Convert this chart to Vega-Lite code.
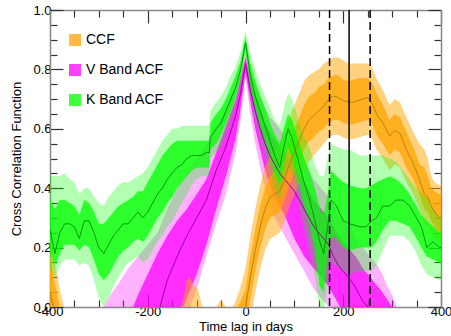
{
"$schema":"https://vega.github.io/schema/vega-lite/v6.json",
"width":391,"height":297,
"autosize":{"type":"none"},
"padding":{"left":50,"top":10,"right":10,"bottom":29},
"background":"white",
"config":{"view":{"stroke":null},"font":"Liberation Sans","axis":{"labelFont":"Liberation Sans","titleFont":"Liberation Sans","labelFontSize":13,"titleFontSize":13,"titleFontWeight":"normal","labelColor":"#000","titleColor":"#000","domainColor":"#888","domainWidth":1.5,"tickColor":"#333","tickWidth":1.2,"grid":false}},
"data":{"values":[
{"s":"K Band ACF","lag":-400,"c":0.26,"l2":0.13,"l1":0.19,"h1":0.36,"h2":0.44},
{"s":"K Band ACF","lag":-390,"c":0.18,"l2":0.10,"l1":0.14,"h1":0.33,"h2":0.44},
{"s":"K Band ACF","lag":-380,"c":0.25,"l2":0.14,"l1":0.18,"h1":0.36,"h2":0.44},
{"s":"K Band ACF","lag":-370,"c":0.28,"l2":0.16,"l1":0.21,"h1":0.36,"h2":0.45},
{"s":"K Band ACF","lag":-360,"c":0.28,"l2":0.16,"l1":0.21,"h1":0.35,"h2":0.43},
{"s":"K Band ACF","lag":-350,"c":0.27,"l2":0.16,"l1":0.21,"h1":0.34,"h2":0.42},
{"s":"K Band ACF","lag":-340,"c":0.23,"l2":0.14,"l1":0.19,"h1":0.31,"h2":0.38},
{"s":"K Band ACF","lag":-330,"c":0.29,"l2":0.15,"l1":0.21,"h1":0.36,"h2":0.40},
{"s":"K Band ACF","lag":-320,"c":0.29,"l2":0.14,"l1":0.20,"h1":0.35,"h2":0.40},
{"s":"K Band ACF","lag":-310,"c":0.25,"l2":0.09,"l1":0.16,"h1":0.32,"h2":0.37},
{"s":"K Band ACF","lag":-300,"c":0.20,"l2":0.03,"l1":0.11,"h1":0.28,"h2":0.35},
{"s":"K Band ACF","lag":-290,"c":0.18,"l2":0.00,"l1":0.09,"h1":0.28,"h2":0.34},
{"s":"K Band ACF","lag":-280,"c":0.21,"l2":0.03,"l1":0.11,"h1":0.30,"h2":0.37},
{"s":"K Band ACF","lag":-270,"c":0.24,"l2":0.07,"l1":0.14,"h1":0.32,"h2":0.39},
{"s":"K Band ACF","lag":-260,"c":0.26,"l2":0.10,"l1":0.17,"h1":0.34,"h2":0.41},
{"s":"K Band ACF","lag":-250,"c":0.28,"l2":0.13,"l1":0.19,"h1":0.35,"h2":0.42},
{"s":"K Band ACF","lag":-240,"c":0.28,"l2":0.15,"l1":0.20,"h1":0.36,"h2":0.42},
{"s":"K Band ACF","lag":-230,"c":0.30,"l2":0.16,"l1":0.22,"h1":0.37,"h2":0.43},
{"s":"K Band ACF","lag":-220,"c":0.32,"l2":0.17,"l1":0.23,"h1":0.39,"h2":0.44},
{"s":"K Band ACF","lag":-210,"c":0.30,"l2":0.15,"l1":0.22,"h1":0.39,"h2":0.45},
{"s":"K Band ACF","lag":-200,"c":0.32,"l2":0.16,"l1":0.24,"h1":0.42,"h2":0.47},
{"s":"K Band ACF","lag":-190,"c":0.35,"l2":0.19,"l1":0.27,"h1":0.45,"h2":0.50},
{"s":"K Band ACF","lag":-180,"c":0.38,"l2":0.22,"l1":0.30,"h1":0.48,"h2":0.53},
{"s":"K Band ACF","lag":-170,"c":0.40,"l2":0.24,"l1":0.32,"h1":0.51,"h2":0.56},
{"s":"K Band ACF","lag":-160,"c":0.43,"l2":0.27,"l1":0.35,"h1":0.53,"h2":0.58},
{"s":"K Band ACF","lag":-150,"c":0.45,"l2":0.29,"l1":0.37,"h1":0.55,"h2":0.60},
{"s":"K Band ACF","lag":-140,"c":0.47,"l2":0.32,"l1":0.40,"h1":0.56,"h2":0.60},
{"s":"K Band ACF","lag":-130,"c":0.48,"l2":0.35,"l1":0.42,"h1":0.56,"h2":0.61},
{"s":"K Band ACF","lag":-120,"c":0.50,"l2":0.38,"l1":0.44,"h1":0.56,"h2":0.61},
{"s":"K Band ACF","lag":-110,"c":0.51,"l2":0.41,"l1":0.46,"h1":0.56,"h2":0.61},
{"s":"K Band ACF","lag":-100,"c":0.51,"l2":0.43,"l1":0.47,"h1":0.56,"h2":0.61},
{"s":"K Band ACF","lag":-90,"c":0.51,"l2":0.44,"l1":0.47,"h1":0.56,"h2":0.61},
{"s":"K Band ACF","lag":-80,"c":0.52,"l2":0.44,"l1":0.47,"h1":0.56,"h2":0.61},
{"s":"K Band ACF","lag":-74,"c":0.52,"l2":0.44,"l1":0.47,"h1":0.56,"h2":0.61},
{"s":"K Band ACF","lag":-72,"c":0.57,"l2":0.50,"l1":0.53,"h1":0.62,"h2":0.66},
{"s":"K Band ACF","lag":-60,"c":0.60,"l2":0.52,"l1":0.55,"h1":0.65,"h2":0.69},
{"s":"K Band ACF","lag":-50,"c":0.62,"l2":0.54,"l1":0.58,"h1":0.67,"h2":0.71},
{"s":"K Band ACF","lag":-40,"c":0.66,"l2":0.58,"l1":0.62,"h1":0.70,"h2":0.74},
{"s":"K Band ACF","lag":-30,"c":0.70,"l2":0.63,"l1":0.66,"h1":0.74,"h2":0.78},
{"s":"K Band ACF","lag":-20,"c":0.74,"l2":0.68,"l1":0.71,"h1":0.78,"h2":0.81},
{"s":"K Band ACF","lag":-10,"c":0.80,"l2":0.75,"l1":0.77,"h1":0.83,"h2":0.86},
{"s":"K Band ACF","lag":0,"c":0.89,"l2":0.85,"l1":0.87,"h1":0.91,"h2":0.93},
{"s":"K Band ACF","lag":10,"c":0.78,"l2":0.71,"l1":0.74,"h1":0.82,"h2":0.85},
{"s":"K Band ACF","lag":20,"c":0.71,"l2":0.63,"l1":0.67,"h1":0.76,"h2":0.80},
{"s":"K Band ACF","lag":30,"c":0.66,"l2":0.57,"l1":0.61,"h1":0.71,"h2":0.75},
{"s":"K Band ACF","lag":40,"c":0.61,"l2":0.51,"l1":0.56,"h1":0.67,"h2":0.71},
{"s":"K Band ACF","lag":50,"c":0.56,"l2":0.46,"l1":0.51,"h1":0.62,"h2":0.67},
{"s":"K Band ACF","lag":60,"c":0.51,"l2":0.40,"l1":0.45,"h1":0.58,"h2":0.63},
{"s":"K Band ACF","lag":70,"c":0.47,"l2":0.36,"l1":0.41,"h1":0.55,"h2":0.61},
{"s":"K Band ACF","lag":80,"c":0.55,"l2":0.43,"l1":0.49,"h1":0.61,"h2":0.68},
{"s":"K Band ACF","lag":87,"c":0.60,"l2":0.48,"l1":0.54,"h1":0.65,"h2":0.72},
{"s":"K Band ACF","lag":95,"c":0.57,"l2":0.45,"l1":0.50,"h1":0.63,"h2":0.70},
{"s":"K Band ACF","lag":105,"c":0.51,"l2":0.38,"l1":0.44,"h1":0.58,"h2":0.65},
{"s":"K Band ACF","lag":118,"c":0.43,"l2":0.28,"l1":0.35,"h1":0.51,"h2":0.58},
{"s":"K Band ACF","lag":130,"c":0.37,"l2":0.20,"l1":0.28,"h1":0.46,"h2":0.54},
{"s":"K Band ACF","lag":142,"c":0.29,"l2":0.10,"l1":0.19,"h1":0.40,"h2":0.48},
{"s":"K Band ACF","lag":152,"c":0.22,"l2":0.00,"l1":0.07,"h1":0.33,"h2":0.44},
{"s":"K Band ACF","lag":160,"c":0.18,"l2":-0.02,"l1":0.05,"h1":0.31,"h2":0.44},
{"s":"K Band ACF","lag":168,"c":0.27,"l2":0.08,"l1":0.17,"h1":0.38,"h2":0.50},
{"s":"K Band ACF","lag":175,"c":0.36,"l2":0.15,"l1":0.24,"h1":0.46,"h2":0.55},
{"s":"K Band ACF","lag":186,"c":0.34,"l2":0.14,"l1":0.23,"h1":0.44,"h2":0.54},
{"s":"K Band ACF","lag":200,"c":0.29,"l2":0.12,"l1":0.20,"h1":0.42,"h2":0.53},
{"s":"K Band ACF","lag":213,"c":0.28,"l2":0.11,"l1":0.19,"h1":0.41,"h2":0.53},
{"s":"K Band ACF","lag":234,"c":0.27,"l2":0.12,"l1":0.20,"h1":0.40,"h2":0.51},
{"s":"K Band ACF","lag":247,"c":0.27,"l2":0.12,"l1":0.20,"h1":0.40,"h2":0.51},
{"s":"K Band ACF","lag":258,"c":0.29,"l2":0.12,"l1":0.20,"h1":0.41,"h2":0.51},
{"s":"K Band ACF","lag":268,"c":0.30,"l2":0.14,"l1":0.22,"h1":0.42,"h2":0.51},
{"s":"K Band ACF","lag":281,"c":0.34,"l2":0.19,"l1":0.26,"h1":0.43,"h2":0.51},
{"s":"K Band ACF","lag":295,"c":0.34,"l2":0.24,"l1":0.29,"h1":0.44,"h2":0.50},
{"s":"K Band ACF","lag":308,"c":0.36,"l2":0.24,"l1":0.29,"h1":0.43,"h2":0.49},
{"s":"K Band ACF","lag":322,"c":0.36,"l2":0.24,"l1":0.28,"h1":0.41,"h2":0.46},
{"s":"K Band ACF","lag":336,"c":0.34,"l2":0.22,"l1":0.27,"h1":0.38,"h2":0.43},
{"s":"K Band ACF","lag":350,"c":0.30,"l2":0.18,"l1":0.23,"h1":0.34,"h2":0.40},
{"s":"K Band ACF","lag":360,"c":0.27,"l2":0.14,"l1":0.20,"h1":0.31,"h2":0.38},
{"s":"K Band ACF","lag":371,"c":0.20,"l2":0.11,"l1":0.17,"h1":0.29,"h2":0.37},
{"s":"K Band ACF","lag":384,"c":0.22,"l2":0.10,"l1":0.16,"h1":0.27,"h2":0.33},
{"s":"K Band ACF","lag":397,"c":0.20,"l2":0.09,"l1":0.15,"h1":0.25,"h2":0.30},
{"s":"K Band ACF","lag":400,"c":0.20,"l2":0.09,"l1":0.15,"h1":0.25,"h2":0.30},
{"s":"V Band ACF","lag":-320,"c":-0.80,"l2":-1.0,"l1":-1.0,"h1":-0.32,"h2":-0.09},
{"s":"V Band ACF","lag":-300,"c":-0.70,"l2":-1.0,"l1":-0.9,"h1":-0.25,"h2":-0.03},
{"s":"V Band ACF","lag":-280,"c":-0.60,"l2":-0.9,"l1":-0.8,"h1":-0.18,"h2":0.03},
{"s":"V Band ACF","lag":-260,"c":-0.50,"l2":-0.8,"l1":-0.7,"h1":-0.11,"h2":0.08},
{"s":"V Band ACF","lag":-240,"c":-0.40,"l2":-0.7,"l1":-0.6,"h1":-0.04,"h2":0.13},
{"s":"V Band ACF","lag":-220,"c":-0.30,"l2":-0.6,"l1":-0.5,"h1":0.04,"h2":0.17},
{"s":"V Band ACF","lag":-200,"c":-0.15,"l2":-0.45,"l1":-0.35,"h1":0.11,"h2":0.21},
{"s":"V Band ACF","lag":-180,"c":-0.03,"l2":-0.30,"l1":-0.22,"h1":0.18,"h2":0.25},
{"s":"V Band ACF","lag":-160,"c":0.09,"l2":-0.18,"l1":-0.12,"h1":0.24,"h2":0.33},
{"s":"V Band ACF","lag":-140,"c":0.17,"l2":-0.10,"l1":-0.05,"h1":0.29,"h2":0.40},
{"s":"V Band ACF","lag":-120,"c":0.24,"l2":-0.03,"l1":0.03,"h1":0.33,"h2":0.45},
{"s":"V Band ACF","lag":-100,"c":0.30,"l2":0.06,"l1":0.11,"h1":0.38,"h2":0.50},
{"s":"V Band ACF","lag":-80,"c":0.36,"l2":0.17,"l1":0.21,"h1":0.43,"h2":0.55},
{"s":"V Band ACF","lag":-60,"c":0.46,"l2":0.28,"l1":0.33,"h1":0.52,"h2":0.61},
{"s":"V Band ACF","lag":-40,"c":0.54,"l2":0.38,"l1":0.44,"h1":0.61,"h2":0.67},
{"s":"V Band ACF","lag":-20,"c":0.645,"l2":0.52,"l1":0.57,"h1":0.70,"h2":0.74},
{"s":"V Band ACF","lag":-10,"c":0.72,"l2":0.63,"l1":0.67,"h1":0.77,"h2":0.79},
{"s":"V Band ACF","lag":0,"c":0.82,"l2":0.77,"l1":0.79,"h1":0.84,"h2":0.86},
{"s":"V Band ACF","lag":10,"c":0.73,"l2":0.65,"l1":0.69,"h1":0.77,"h2":0.80},
{"s":"V Band ACF","lag":20,"c":0.66,"l2":0.55,"l1":0.60,"h1":0.71,"h2":0.75},
{"s":"V Band ACF","lag":30,"c":0.60,"l2":0.47,"l1":0.53,"h1":0.66,"h2":0.71},
{"s":"V Band ACF","lag":40,"c":0.55,"l2":0.40,"l1":0.46,"h1":0.62,"h2":0.67},
{"s":"V Band ACF","lag":50,"c":0.51,"l2":0.34,"l1":0.41,"h1":0.59,"h2":0.64},
{"s":"V Band ACF","lag":60,"c":0.48,"l2":0.30,"l1":0.37,"h1":0.56,"h2":0.62},
{"s":"V Band ACF","lag":70,"c":0.45,"l2":0.27,"l1":0.34,"h1":0.54,"h2":0.60},
{"s":"V Band ACF","lag":80,"c":0.43,"l2":0.24,"l1":0.31,"h1":0.52,"h2":0.58},
{"s":"V Band ACF","lag":90,"c":0.41,"l2":0.21,"l1":0.27,"h1":0.50,"h2":0.56},
{"s":"V Band ACF","lag":100,"c":0.39,"l2":0.18,"l1":0.23,"h1":0.48,"h2":0.54},
{"s":"V Band ACF","lag":110,"c":0.36,"l2":0.15,"l1":0.20,"h1":0.45,"h2":0.52},
{"s":"V Band ACF","lag":120,"c":0.33,"l2":0.12,"l1":0.17,"h1":0.42,"h2":0.49},
{"s":"V Band ACF","lag":130,"c":0.30,"l2":0.09,"l1":0.15,"h1":0.39,"h2":0.46},
{"s":"V Band ACF","lag":140,"c":0.27,"l2":0.06,"l1":0.13,"h1":0.36,"h2":0.43},
{"s":"V Band ACF","lag":150,"c":0.25,"l2":0.04,"l1":0.11,"h1":0.34,"h2":0.41},
{"s":"V Band ACF","lag":160,"c":0.23,"l2":0.02,"l1":0.09,"h1":0.32,"h2":0.39},
{"s":"V Band ACF","lag":170,"c":0.21,"l2":0.00,"l1":0.07,"h1":0.30,"h2":0.37},
{"s":"V Band ACF","lag":180,"c":0.17,"l2":-0.03,"l1":0.04,"h1":0.27,"h2":0.34},
{"s":"V Band ACF","lag":190,"c":0.14,"l2":-0.06,"l1":0.01,"h1":0.24,"h2":0.31},
{"s":"V Band ACF","lag":200,"c":0.12,"l2":-0.08,"l1":-0.02,"h1":0.22,"h2":0.29},
{"s":"V Band ACF","lag":210,"c":0.10,"l2":-0.10,"l1":-0.04,"h1":0.20,"h2":0.27},
{"s":"V Band ACF","lag":220,"c":0.08,"l2":-0.12,"l1":-0.06,"h1":0.18,"h2":0.25},
{"s":"V Band ACF","lag":230,"c":0.05,"l2":-0.15,"l1":-0.09,"h1":0.16,"h2":0.22},
{"s":"V Band ACF","lag":240,"c":0.02,"l2":-0.18,"l1":-0.12,"h1":0.13,"h2":0.20},
{"s":"V Band ACF","lag":250,"c":0.00,"l2":-0.20,"l1":-0.14,"h1":0.11,"h2":0.18},
{"s":"V Band ACF","lag":260,"c":-0.03,"l2":-0.23,"l1":-0.17,"h1":0.09,"h2":0.16},
{"s":"V Band ACF","lag":270,"c":-0.05,"l2":-0.25,"l1":-0.19,"h1":0.07,"h2":0.14},
{"s":"V Band ACF","lag":280,"c":-0.08,"l2":-0.28,"l1":-0.22,"h1":0.05,"h2":0.11},
{"s":"V Band ACF","lag":290,"c":-0.10,"l2":-0.30,"l1":-0.24,"h1":0.025,"h2":0.07},
{"s":"V Band ACF","lag":300,"c":-0.12,"l2":-0.32,"l1":-0.26,"h1":0.00,"h2":0.04},
{"s":"V Band ACF","lag":310,"c":-0.15,"l2":-0.35,"l1":-0.30,"h1":-0.03,"h2":0.00},
{"s":"V Band ACF","lag":320,"c":-0.20,"l2":-0.40,"l1":-0.35,"h1":-0.06,"h2":-0.03},
{"s":"CCF","lag":-400,"c":0.05,"l2":-0.25,"l1":-0.10,"h1":0.17,"h2":0.24},
{"s":"CCF","lag":-390,"c":-0.02,"l2":-0.30,"l1":-0.18,"h1":0.08,"h2":0.15},
{"s":"CCF","lag":-380,"c":-0.10,"l2":-0.40,"l1":-0.25,"h1":0.00,"h2":0.06},
{"s":"CCF","lag":-370,"c":-0.15,"l2":-0.45,"l1":-0.30,"h1":-0.06,"h2":-0.01},
{"s":"CCF","lag":-350,"c":-0.20,"l2":-0.50,"l1":-0.35,"h1":-0.10,"h2":-0.05},
{"s":"CCF","lag":-300,"c":-0.25,"l2":-0.50,"l1":-0.40,"h1":-0.15,"h2":-0.08},
{"s":"CCF","lag":-200,"c":-0.25,"l2":-0.50,"l1":-0.40,"h1":-0.15,"h2":-0.08},
{"s":"CCF","lag":-140,"c":-0.20,"l2":-0.50,"l1":-0.35,"h1":-0.10,"h2":-0.03},
{"s":"CCF","lag":-128,"c":-0.15,"l2":-0.45,"l1":-0.30,"h1":-0.05,"h2":0.02},
{"s":"CCF","lag":-120,"c":-0.12,"l2":-0.42,"l1":-0.27,"h1":-0.02,"h2":0.09},
{"s":"CCF","lag":-114,"c":-0.10,"l2":-0.40,"l1":-0.25,"h1":-0.01,"h2":0.10},
{"s":"CCF","lag":-105,"c":-0.12,"l2":-0.42,"l1":-0.27,"h1":-0.03,"h2":0.07},
{"s":"CCF","lag":-97,"c":-0.13,"l2":-0.43,"l1":-0.28,"h1":-0.04,"h2":0.06},
{"s":"CCF","lag":-90,"c":-0.15,"l2":-0.45,"l1":-0.30,"h1":-0.06,"h2":0.01},
{"s":"CCF","lag":-80,"c":-0.18,"l2":-0.48,"l1":-0.33,"h1":-0.09,"h2":-0.03},
{"s":"CCF","lag":-60,"c":-0.16,"l2":-0.46,"l1":-0.31,"h1":-0.07,"h2":0.00},
{"s":"CCF","lag":-50,"c":-0.15,"l2":-0.45,"l1":-0.30,"h1":-0.06,"h2":0.025},
{"s":"CCF","lag":-40,"c":-0.14,"l2":-0.44,"l1":-0.29,"h1":-0.05,"h2":0.00},
{"s":"CCF","lag":-30,"c":-0.12,"l2":-0.40,"l1":-0.26,"h1":-0.05,"h2":-0.01},
{"s":"CCF","lag":-20,"c":-0.08,"l2":-0.30,"l1":-0.17,"h1":-0.01,"h2":0.02},
{"s":"CCF","lag":-10,"c":-0.04,"l2":-0.22,"l1":-0.12,"h1":0.02,"h2":0.07},
{"s":"CCF","lag":0,"c":0.00,"l2":-0.14,"l1":-0.07,"h1":0.06,"h2":0.13},
{"s":"CCF","lag":10,"c":0.10,"l2":-0.04,"l1":0.03,"h1":0.17,"h2":0.24},
{"s":"CCF","lag":20,"c":0.19,"l2":0.05,"l1":0.12,"h1":0.26,"h2":0.33},
{"s":"CCF","lag":30,"c":0.27,"l2":0.13,"l1":0.20,"h1":0.34,"h2":0.41},
{"s":"CCF","lag":40,"c":0.33,"l2":0.19,"l1":0.26,"h1":0.40,"h2":0.47},
{"s":"CCF","lag":50,"c":0.37,"l2":0.23,"l1":0.30,"h1":0.44,"h2":0.51},
{"s":"CCF","lag":60,"c":0.38,"l2":0.24,"l1":0.31,"h1":0.46,"h2":0.53},
{"s":"CCF","lag":70,"c":0.39,"l2":0.25,"l1":0.32,"h1":0.47,"h2":0.55},
{"s":"CCF","lag":80,"c":0.43,"l2":0.29,"l1":0.36,"h1":0.51,"h2":0.59},
{"s":"CCF","lag":90,"c":0.48,"l2":0.34,"l1":0.41,"h1":0.56,"h2":0.64},
{"s":"CCF","lag":100,"c":0.52,"l2":0.38,"l1":0.45,"h1":0.60,"h2":0.68},
{"s":"CCF","lag":110,"c":0.56,"l2":0.42,"l1":0.49,"h1":0.64,"h2":0.72},
{"s":"CCF","lag":120,"c":0.60,"l2":0.46,"l1":0.53,"h1":0.68,"h2":0.76},
{"s":"CCF","lag":130,"c":0.63,"l2":0.49,"l1":0.56,"h1":0.71,"h2":0.78},
{"s":"CCF","lag":140,"c":0.645,"l2":0.51,"l1":0.57,"h1":0.72,"h2":0.79},
{"s":"CCF","lag":150,"c":0.66,"l2":0.53,"l1":0.59,"h1":0.74,"h2":0.80},
{"s":"CCF","lag":160,"c":0.675,"l2":0.55,"l1":0.60,"h1":0.75,"h2":0.82},
{"s":"CCF","lag":170,"c":0.70,"l2":0.57,"l1":0.62,"h1":0.77,"h2":0.83},
{"s":"CCF","lag":180,"c":0.71,"l2":0.58,"l1":0.63,"h1":0.78,"h2":0.84},
{"s":"CCF","lag":190,"c":0.705,"l2":0.58,"l1":0.63,"h1":0.78,"h2":0.84},
{"s":"CCF","lag":200,"c":0.695,"l2":0.57,"l1":0.62,"h1":0.765,"h2":0.83},
{"s":"CCF","lag":210,"c":0.69,"l2":0.565,"l1":0.615,"h1":0.76,"h2":0.82},
{"s":"CCF","lag":220,"c":0.69,"l2":0.565,"l1":0.615,"h1":0.765,"h2":0.82},
{"s":"CCF","lag":230,"c":0.695,"l2":0.57,"l1":0.62,"h1":0.77,"h2":0.82},
{"s":"CCF","lag":240,"c":0.70,"l2":0.575,"l1":0.625,"h1":0.77,"h2":0.82},
{"s":"CCF","lag":250,"c":0.705,"l2":0.58,"l1":0.63,"h1":0.77,"h2":0.82},
{"s":"CCF","lag":258,"c":0.69,"l2":0.57,"l1":0.62,"h1":0.76,"h2":0.81},
{"s":"CCF","lag":268,"c":0.65,"l2":0.53,"l1":0.58,"h1":0.72,"h2":0.77},
{"s":"CCF","lag":281,"c":0.62,"l2":0.50,"l1":0.55,"h1":0.68,"h2":0.73},
{"s":"CCF","lag":295,"c":0.575,"l2":0.46,"l1":0.51,"h1":0.63,"h2":0.68},
{"s":"CCF","lag":305,"c":0.595,"l2":0.48,"l1":0.53,"h1":0.65,"h2":0.70},
{"s":"CCF","lag":316,"c":0.585,"l2":0.47,"l1":0.52,"h1":0.64,"h2":0.69},
{"s":"CCF","lag":329,"c":0.53,"l2":0.42,"l1":0.47,"h1":0.59,"h2":0.64},
{"s":"CCF","lag":343,"c":0.485,"l2":0.38,"l1":0.43,"h1":0.54,"h2":0.59},
{"s":"CCF","lag":356,"c":0.43,"l2":0.33,"l1":0.38,"h1":0.48,"h2":0.55},
{"s":"CCF","lag":366,"c":0.38,"l2":0.28,"l1":0.33,"h1":0.47,"h2":0.53},
{"s":"CCF","lag":373,"c":0.37,"l2":0.27,"l1":0.32,"h1":0.44,"h2":0.50},
{"s":"CCF","lag":380,"c":0.34,"l2":0.25,"l1":0.29,"h1":0.40,"h2":0.44},
{"s":"CCF","lag":387,"c":0.32,"l2":0.23,"l1":0.27,"h1":0.39,"h2":0.42},
{"s":"CCF","lag":397,"c":0.30,"l2":0.22,"l1":0.25,"h1":0.38,"h2":0.41},
{"s":"CCF","lag":400,"c":0.30,"l2":0.22,"l1":0.25,"h1":0.38,"h2":0.41}
]},
"resolve":{"axis":{"x":"independent","y":"independent"}},
"layer":[
{"transform":[{"filter":"datum.s==='V Band ACF'"}],
 "mark":{"type":"area","clip":true,"opacity":0.3},
 "encoding":{
  "x":{"field":"lag","type":"quantitative","scale":{"domain":[-400,400],"nice":false,"zero":false},
   "axis":{"orient":"bottom","values":[-400,-350,-300,-250,-200,-150,-100,-50,0,50,100,150,200,250,300,350,400],
     "labelExpr":"datum.value % 200 === 0 ? toString(datum.value) : ''","tickSize":{"condition":{"test":"datum.value % 200 === 0","value":-13},"value":-7},"labelPadding":11,"title":"Time lag in days","titlePadding":2,"labelFlush":false}},
  "y":{"field":"l2","type":"quantitative","scale":{"domain":[0,1],"nice":false,"zero":false},
   "axis":{"orient":"left","values":[0,0.05,0.1,0.15,0.2,0.25,0.3,0.35,0.4,0.45,0.5,0.55,0.6,0.65,0.7,0.75,0.8,0.85,0.9,0.95,1],
     "labelExpr":"abs(datum.value*5-round(datum.value*5))<0.001 ? format(datum.value,'.1f') : ''","tickSize":{"condition":{"test":"abs(datum.value*5-round(datum.value*5))<0.001","value":-13},"value":-7},"labelPadding":12,"title":"Cross Correlation Function","titlePadding":9,"labelFlush":false}},
  "y2":{"field":"h2"},
  "color":{"field":"s","type":"nominal","scale":{"domain":["CCF","V Band ACF","K Band ACF"],"range":["#FFA500","#FF00FF","#00FF00"]},
   "legend":{"orient":"none","legendX":18,"legendY":23,"title":null,"symbolType":"square","symbolSize":144,"symbolOpacity":1,"symbolStrokeWidth":0,"labelFontSize":14,"labelFont":"Liberation Sans","labelColor":"#000","rowPadding":16,"labelOffset":4,"padding":0}}}},
{"transform":[{"filter":"datum.s==='V Band ACF'"}],
 "mark":{"type":"area","clip":true,"opacity":0.75},
 "encoding":{"x":{"field":"lag","type":"quantitative","axis":null},"y":{"field":"l1","type":"quantitative","axis":null},"y2":{"field":"h1"},"color":{"field":"s","type":"nominal"}}},
{"transform":[{"filter":"datum.s==='CCF'"}],
 "mark":{"type":"area","clip":true,"opacity":0.5},
 "encoding":{"x":{"field":"lag","type":"quantitative","axis":null},"y":{"field":"l2","type":"quantitative","axis":null},"y2":{"field":"h2"},"color":{"field":"s","type":"nominal"}}},
{"transform":[{"filter":"datum.s==='CCF'"}],
 "mark":{"type":"area","clip":true,"opacity":0.74},
 "encoding":{"x":{"field":"lag","type":"quantitative","axis":null},"y":{"field":"l1","type":"quantitative","axis":null},"y2":{"field":"h1"},"color":{"field":"s","type":"nominal"}}},
{"transform":[{"filter":"datum.s==='K Band ACF'"}],
 "mark":{"type":"area","clip":true,"opacity":0.3},
 "encoding":{"x":{"field":"lag","type":"quantitative",
   "axis":{"orient":"top","values":[-400,-350,-300,-250,-200,-150,-100,-50,0,50,100,150,200,250,300,350,400],"labels":false,"title":null,"tickSize":{"condition":{"test":"datum.value % 200 === 0","value":-13},"value":-7}}},
  "y":{"field":"l2","type":"quantitative",
   "axis":{"orient":"right","values":[0,0.05,0.1,0.15,0.2,0.25,0.3,0.35,0.4,0.45,0.5,0.55,0.6,0.65,0.7,0.75,0.8,0.85,0.9,0.95,1],"labels":false,"title":null,"tickSize":{"condition":{"test":"abs(datum.value*5-round(datum.value*5))<0.001","value":-13},"value":-7}}},
  "y2":{"field":"h2"},"color":{"field":"s","type":"nominal"}}},
{"transform":[{"filter":"datum.s==='K Band ACF'"}],
 "mark":{"type":"area","clip":true,"opacity":0.75},
 "encoding":{"x":{"field":"lag","type":"quantitative","axis":null},"y":{"field":"l1","type":"quantitative","axis":null},"y2":{"field":"h1"},"color":{"field":"s","type":"nominal"}}},
{"transform":[{"filter":"datum.s==='V Band ACF'"}],
 "mark":{"type":"line","clip":true,"color":"#990099","strokeWidth":1},
 "encoding":{"x":{"field":"lag","type":"quantitative","axis":null},"y":{"field":"c","type":"quantitative","axis":null}}},
{"transform":[{"filter":"datum.s==='CCF'"}],
 "mark":{"type":"line","clip":true,"color":"#B8860B","strokeWidth":1},
 "encoding":{"x":{"field":"lag","type":"quantitative","axis":null},"y":{"field":"c","type":"quantitative","axis":null}}},
{"transform":[{"filter":"datum.s==='K Band ACF'"}],
 "mark":{"type":"line","clip":true,"color":"#009900","strokeWidth":1},
 "encoding":{"x":{"field":"lag","type":"quantitative","axis":null},"y":{"field":"c","type":"quantitative","axis":null}}},
{"data":{"values":[{"lag":172,"d":"dashed"},{"lag":212,"d":"solid"},{"lag":255,"d":"dashed"}]},
 "mark":{"type":"rule","color":"#000","strokeWidth":1.5},
 "encoding":{"x":{"field":"lag","type":"quantitative","axis":null},
  "strokeDash":{"field":"d","type":"nominal","scale":{"domain":["solid","dashed"],"range":[[1,0],[8,4]]},"legend":null}}}
]
}
